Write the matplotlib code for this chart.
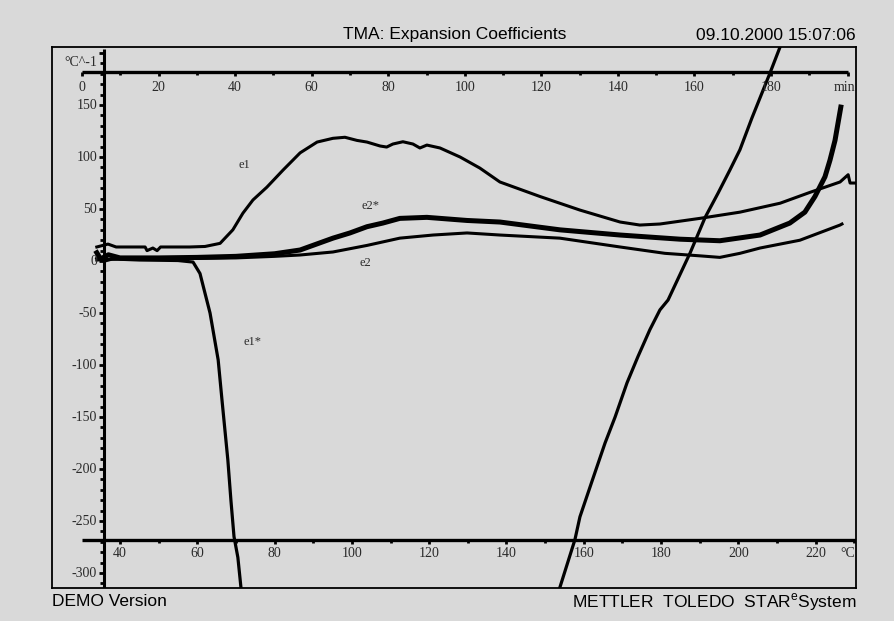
import matplotlib
matplotlib.use("Agg")
import matplotlib.pyplot as plt
import numpy as np

plt.rcParams['mathtext.fontset'] = 'custom'
plt.rcParams['mathtext.rm'] = 'Liberation Sans'

# ---- data: expansion coefficients vs. sample temperature (°C) ----
e1_temp = [34.0, 36.9, 39.0, 46.5, 47.0, 48.5, 49.6, 50.5, 58.0, 62.0, 65.9, 69.2,
           71.8, 74.4, 78.0, 82.2, 86.6, 91.0, 95.1, 98.2, 101.3, 103.9, 107.3,
           109.0, 110.6, 113.2, 115.8, 117.6, 119.4, 122.8, 128.0, 133.1, 138.3,
           148.7, 159.0, 169.4, 174.5, 179.7, 190.0, 200.4, 210.8, 218.5, 226.3,
           228.4, 228.9, 230.4]
e1_vals = [13.5, 16.3, 13.5, 13.5, 10.0, 12.5, 10.0, 13.5, 13.5, 14.0, 17.0, 30.0,
           46.0, 58.7, 71.0, 87.5, 104.0, 114.4, 118.0, 119.0, 116.0, 114.4, 110.6,
           109.6, 112.5, 114.7, 112.5, 108.7, 111.5, 108.7, 100.0, 89.4, 76.0,
           62.0, 49.0, 37.5, 34.6, 35.6, 41.0, 47.0, 55.6, 66.0, 76.0,
           83.0, 75.0, 75.0]

e1s_temp = [34.0, 36.0, 38.0, 45.0, 55.0, 58.9, 60.7, 63.3, 65.4, 66.4, 67.9, 68.7,
            69.5, 70.5, 71.3, np.nan,
            153.8, 157.7, 159.0, 162.1, 165.5, 168.1, 171.2, 174.0, 177.1, 179.7,
            181.8, 187.5, 191.4, 194.7, 197.8, 200.4, 203.5, 208.2, 210.8]
e1s_vals = [3.0, 0.0, 2.0, 1.0, 0.5, -1.0, -12.0, -50.0, -95.0, -134.0, -191.0, -230.0,
            -265.0, -285.0, -314.0, np.nan,
            -314.0, -268.0, -246.0, -212.0, -175.0, -150.0, -117.0, -92.0, -66.0, -47.0,
            -37.5, 7.7, 42.0, 65.0, 87.5, 107.0, 137.5, 181.0, 206.0]

e2s_temp = [34.0, 35.0, 37.0, 40.0, 50.0, 60.0, 70.0, 80.0, 86.6, 95.1, 99.5, 103.9,
            108.0, 112.4, 119.4, 129.8, 138.3, 153.8, 169.4, 184.9, 195.2, 205.6,
            213.3, 217.2, 219.8, 222.4, 223.7, 225.0, 226.5]
e2s_vals = [8.0, 2.0, 6.0, 3.0, 3.0, 3.5, 4.5, 7.0, 10.6, 22.0, 27.0, 33.0,
            36.5, 41.0, 42.0, 39.0, 37.5, 30.0, 25.0, 21.0, 19.5, 25.0,
            36.5, 47.0, 62.0, 81.0, 97.0, 116.0, 148.0]

e2_temp = [34.0, 40.0, 50.0, 60.0, 70.0, 80.0, 86.6, 95.1, 103.9, 112.4, 121.0,
           129.8, 138.3, 153.8, 169.4, 181.0, 190.0, 195.2, 200.4, 205.6, 215.9,
           226.3, 226.8]
e2_vals = [1.0, 2.0, 2.0, 2.5, 3.0, 4.5, 5.8, 8.7, 15.0, 22.0, 25.0,
           27.0, 25.0, 22.0, 13.5, 7.4, 5.0, 3.5, 7.4, 12.5, 20.0,
           34.6, 35.6]

curve_labels = ["e1", "e2*", "e2", "e1*"]
label_temp = [72.3, 104.7, 103.4, 74.2]
label_vals = [92.3, 52.9, -1.9, -77.9]

y_ticks_major = [150, 100, 50, 0, -50, -100, -150, -200, -250, -300]
time_ticks = [0, 20, 40, 60, 80, 100, 120, 140, 160, 180]
temp_ticks = [40, 60, 80, 100, 120, 140, 160, 180, 200, 220]

# ---- figure layout ----
W, H = 895, 621
BG = '#d9d9d9'
fig = plt.figure(figsize=(W / 100, H / 100), dpi=100, facecolor=BG)
ax = fig.add_axes([52 / W, 1 - 588 / H, (856 - 52) / W, (588 - 47) / H])
ax.set_facecolor(BG)
T_LEFT, T_RIGHT = 22.41, 230.43
Y_BOTTOM, Y_TOP = -314.4, 205.8
ax.set_xlim(T_LEFT, T_RIGHT)
ax.set_ylim(Y_BOTTOM, Y_TOP)
ax.set_xticks([])
ax.set_yticks([])
for s in ax.spines.values():
    s.set_linewidth(1.3)
    s.set_color('black')

PX_X = 1 / 3.865   # data units per pixel along x
PX_Y = 1 / 1.04    # data units per pixel along y
tick_font = dict(family='Liberation Serif', size=10, color='#2a2a2a')
K = 'black'

# vertical value axis
Y_AXIS_T = 35.86
ax.plot([Y_AXIS_T, Y_AXIS_T], [Y_BOTTOM, 204], color=K, lw=2.2, solid_capstyle='butt')
for v in range(-310, 201, 10):
    ln = 5 if v % 50 == 0 else 4
    ax.plot([Y_AXIS_T - ln * PX_X, Y_AXIS_T], [v, v], color=K, lw=2.0, solid_capstyle='butt')
for v in y_ticks_major:
    ax.text(Y_AXIS_T - 7 * PX_X, v, f"{v}", ha='right', va='center', **tick_font)
ax.text(Y_AXIS_T - 7 * PX_X, 191, "°C^-1", ha='right', va='center', **tick_font)

# top time axis (min), mapped onto the temperature scale
T0, RATE = 30.17, 0.9904
TIME_Y = 181.7
def t2T(t):
    return T0 + RATE * t
ax.plot([t2T(0), t2T(200)], [TIME_Y, TIME_Y], color=K, lw=2.4, solid_capstyle='butt')
for t in range(0, 201, 10):
    ln = 4 if t % 20 == 0 else 3
    ax.plot([t2T(t), t2T(t)], [TIME_Y, TIME_Y - ln * PX_Y], color=K, lw=2.0, solid_capstyle='butt')
for t in time_ticks:
    ax.text(t2T(t), TIME_Y - 15 * PX_Y, f"{t}", ha='center', va='center', **tick_font)
ax.text(t2T(199.2), TIME_Y - 15 * PX_Y, "min", ha='center', va='center', **tick_font)

# bottom temperature axis (°C)
TEMP_Y = -268.3
ax.plot([30.17, T_RIGHT], [TEMP_Y, TEMP_Y], color=K, lw=2.4, solid_capstyle='butt')
for T in range(40, 231, 10):
    ln = 4 if T % 20 == 0 else 3
    ax.plot([T, T], [TEMP_Y, TEMP_Y - ln * PX_Y], color=K, lw=2.0, solid_capstyle='butt')
for T in temp_ticks:
    ax.text(T, TEMP_Y - 13 * PX_Y, f"{T}", ha='center', va='center', **tick_font)
ax.text(228.3, TEMP_Y - 13 * PX_Y, "°C", ha='center', va='center', **tick_font)

# curves
ax.plot(e1_temp, e1_vals, color=K, lw=2.2, solid_joinstyle='round')
ax.plot(e1s_temp, e1s_vals, color=K, lw=2.3, solid_joinstyle='round')
ax.plot(e2s_temp, e2s_vals, color=K, lw=3.6, solid_joinstyle='round')
ax.plot(e2_temp, e2_vals, color=K, lw=2.2, solid_joinstyle='round')

for name, tx, vy in zip(curve_labels, label_temp, label_vals):
    ax.text(tx, vy, name, ha='center', va='center', family='Liberation Serif',
            size=9, color='#2a2a2a')

# header and footer
head = dict(family='Liberation Sans', size=12.5, color='black', va='center')
fig.text(455 / W, 1 - 35 / H, "TMA: Expansion Coefficients", ha='center', **head)
fig.text(856 / W, 1 - 35 / H, "09.10.2000 15:07:06", ha='right', **head)
fig.text(52 / W, 1 - 602 / H, "DEMO Version", ha='left', **head)
fig.text(856 / W, 1 - 602 / H, "METTLER  TOLEDO  STAR$^{\\mathrm{e}}$System", ha='right', **head)

fig.savefig("out.png", dpi=100, facecolor=BG)
